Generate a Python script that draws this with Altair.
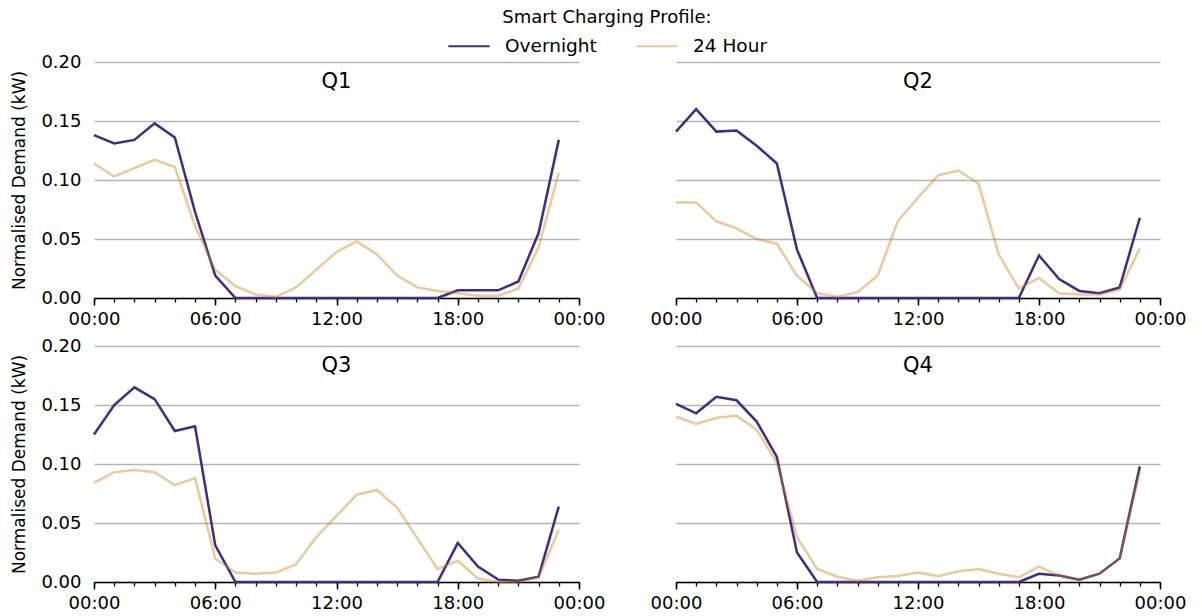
import altair as alt
import pandas as pd

# Hour of day for each reading (00:00 .. 23:00)
hours = list(range(24))
profiles = ["Overnight", "24 Hour"]

# Normalised demand (kW) per quarter and smart charging profile
q1_overnight = [0.138, 0.131, 0.134, 0.148, 0.136, 0.073, 0.019, 0, 0, 0, 0, 0,
                0, 0, 0, 0, 0, 0, 0.0065, 0.0065, 0.0065, 0.014, 0.055, 0.134]
q1_24hour = [0.114, 0.103, 0.110, 0.117, 0.111, 0.061, 0.024, 0.010, 0.003, 0.001, 0.009, 0.024,
             0.039, 0.048, 0.037, 0.019, 0.009, 0.006, 0.004, 0.002, 0.002, 0.008, 0.043, 0.106]

q2_overnight = [0.141, 0.160, 0.141, 0.142, 0.129, 0.114, 0.041, 0, 0, 0, 0, 0,
                0, 0, 0, 0, 0, 0, 0.036, 0.016, 0.006, 0.004, 0.009, 0.068]
q2_24hour = [0.081, 0.081, 0.065, 0.059, 0.050, 0.046, 0.019, 0.004, 0.001, 0.005, 0.019, 0.065,
             0.085, 0.104, 0.108, 0.097, 0.037, 0.008, 0.017, 0.004, 0.003, 0.003, 0.007, 0.042]

q3_overnight = [0.125, 0.150, 0.165, 0.155, 0.128, 0.132, 0.031, 0, 0, 0, 0, 0,
                0, 0, 0, 0, 0, 0, 0.033, 0.013, 0.002, 0.001, 0.0045, 0.064]
q3_24hour = [0.084, 0.093, 0.095, 0.093, 0.082, 0.088, 0.020, 0.008, 0.007, 0.008, 0.015, 0.038,
             0.056, 0.074, 0.078, 0.063, 0.037, 0.011, 0.018, 0.003, 0.000, 0.000, 0.004, 0.044]

q4_overnight = [0.151, 0.143, 0.157, 0.154, 0.136, 0.106, 0.025, 0, 0, 0, 0, 0,
                0, 0, 0, 0, 0, 0, 0.007, 0.0055, 0.002, 0.007, 0.020, 0.098]
q4_24hour = [0.140, 0.134, 0.139, 0.141, 0.129, 0.101, 0.038, 0.011, 0.0045, 0.001, 0.004, 0.005,
             0.008, 0.005, 0.009, 0.011, 0.007, 0.004, 0.013, 0.0055, 0.002, 0.007, 0.020, 0.094]

major_hours = [0, 6, 12, 18, 24]
minor_hours = list(range(25))
y_ticks = [0.0, 0.05, 0.10, 0.15, 0.20]

PURPLE = "#3b2e85"
ORANGE = "#cf7f0a"
FONT = "DejaVu Sans"

legend = alt.Legend(
    title="Smart Charging Profile:",
    orient="none",
    legendX=353,
    legendY=-53,
    direction="horizontal",
    titleOrient="top",
    titleAnchor="middle",
    titleFontSize=18,
    titleFontWeight="normal",
    titleColor="black",
    titleLimit=600,
    titlePadding=-3,
    labelFontSize=18.5,
    labelColor="black",
    labelOffset=14,
    symbolType="stroke",
    symbolSize=1700,
    symbolStrokeWidth=2.2,
    columnPadding=34,
)

x_scale = alt.Scale(domain=[0, 24], nice=False, zero=False)
y_scale = alt.Scale(domain=[0, 0.2], nice=False)
hour_label = "(datum.value % 24 < 10 ? '0' : '') + (datum.value % 24) + ':00'"


def panel(name, overnight, day, show_y):
    df = pd.DataFrame({
        "hour": hours * 2,
        "demand": overnight + day,
        "profile": ["Overnight"] * len(hours) + ["24 Hour"] * len(hours),
    })
    # right-hand panels share the y scale: labels kept for spacing but hidden
    y_axis = alt.Axis(
        values=y_ticks,
        format=".2f",
        grid=True,
        gridColor="#b5b5b5",
        gridWidth=1.5,
        domain=False,
        ticks=False,
        labelFontSize=18,
        labelColor="black",
        labelOpacity=1 if show_y else 0,
        labelPadding=13,
        title="Normalised Demand (kW)" if show_y else "",
        titleFontSize=17,
        titleFontWeight="normal",
        titleColor="black",
        titlePadding=12,
    )
    major_axis = alt.Axis(
        orient="bottom",
        values=major_hours,
        labelExpr=hour_label,
        grid=False,
        domainColor="black",
        domainWidth=1.6,
        tickColor="black",
        tickWidth=1.5,
        tickSize=7,
        labelFontSize=18,
        labelColor="black",
        labelPadding=5,
        labelFlush=False,
        title=None,
    )
    minor_axis = alt.Axis(
        orient="bottom",
        values=minor_hours,
        labels=False,
        domain=False,
        grid=False,
        tickColor="black",
        tickWidth=1.3,
        tickSize=4,
        title=None,
    )
    lines = alt.Chart(df).mark_line(strokeWidth=2.5).encode(
        x=alt.X("hour:Q", scale=x_scale, axis=major_axis),
        y=alt.Y("demand:Q", scale=y_scale, axis=y_axis),
        color=alt.Color("profile:N", sort=profiles,
                        scale=alt.Scale(domain=profiles, range=[PURPLE, ORANGE]),
                        legend=legend),
        opacity=alt.Opacity("profile:N", sort=profiles,
                            scale=alt.Scale(domain=profiles, range=[1.0, 0.42]),
                            legend=legend),
    )
    minor = alt.Chart(pd.DataFrame({"hour": minor_hours})).mark_point(opacity=0).encode(
        x=alt.X("hour:Q", scale=x_scale, axis=minor_axis),
    )
    return alt.layer(lines, minor).resolve_axis(x="independent").properties(
        width=485 if show_y else 484,
        height=236,
        title=alt.Title(name, fontSize=21, fontWeight="normal", color="black",
                        anchor="middle", frame="group", baseline="alphabetic",
                        offset=0, dy=56),
    )


chart = alt.concat(
    panel("Q1", q1_overnight, q1_24hour, True),
    panel("Q2", q2_overnight, q2_24hour, False),
    panel("Q3", q3_overnight, q3_24hour, True),
    panel("Q4", q4_overnight, q4_24hour, False),
    columns=2,
    spacing={"row": 48, "column": 97},
    bounds="flush",
).resolve_scale(
    color="shared", opacity="shared"
).properties(
    padding={"left": 10, "top": 9, "right": 8, "bottom": 4},
).configure(
    font=FONT,
).configure_view(
    stroke=None,
)

chart.save("out.html", embed_options={"renderer": "svg", "actions": False})
